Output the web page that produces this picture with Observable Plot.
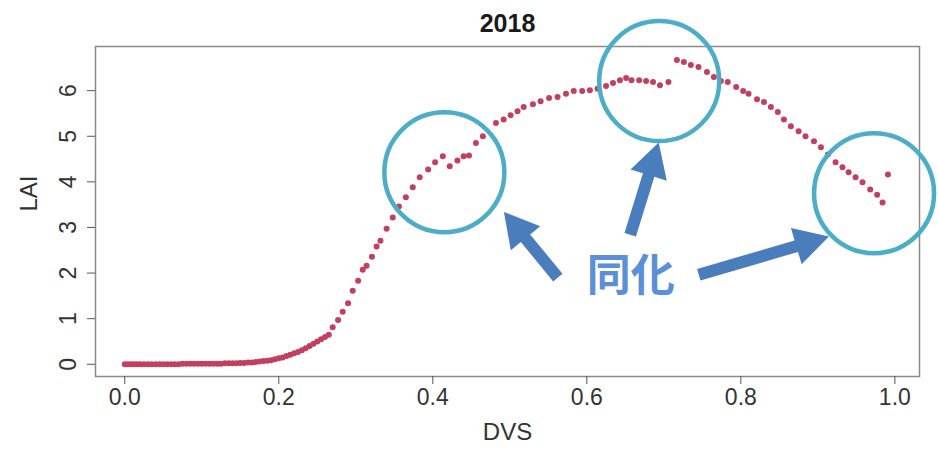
<!DOCTYPE html>
<html>
<head>
<meta charset="utf-8">
<script src="https://cdn.jsdelivr.net/npm/d3@7"></script>
<script src="https://cdn.jsdelivr.net/npm/@observablehq/plot@0.6"></script>
<style>
  html, body { margin: 0; padding: 0; background: #fff; }
  #chart { width: 938px; height: 455px; }
</style>
</head>
<body>
<div id="chart"></div>
<script>
// ---- data ----
const title = "2018";
const xLabel = "DVS";
const yLabel = "LAI";
const xTicks = [0, 0.2, 0.4, 0.6, 0.8, 1.0];
const yTicks = [0, 1, 2, 3, 4, 5, 6];

const dvs = [
  0.000,0.004,0.008,0.012,0.016,0.020,0.025,0.030,0.035,0.040,
  0.045,0.050,0.055,0.060,0.065,0.070,0.075,0.080,0.085,0.090,
  0.095,0.100,0.105,0.110,0.115,0.120,0.125,0.130,0.135,0.140,
  0.145,0.150,0.155,0.160,0.165,0.170,0.175,0.180,0.185,0.190,
  0.195,0.200,0.205,0.210,0.215,0.220,0.225,0.230,0.235,0.240,
  0.245,0.250,0.255,0.260,0.265,
  0.270,0.277,0.283,0.290,0.296,0.303,0.309,0.314,0.321,0.327,
  0.332,0.340,0.348,0.356,0.365,0.374,0.383,0.394,0.403,0.413,
  0.422,0.432,0.440,0.447,0.456,0.465,0.482,0.492,0.501,0.510,
  0.518,0.530,0.540,0.551,0.562,0.573,0.583,0.594,0.604,0.614,
  0.625,0.634,0.643,0.651,0.658,0.668,0.677,0.686,0.695,0.706,
  0.717,0.726,0.735,0.745,0.756,0.765,0.774,0.783,0.794,0.803,
  0.810,0.821,0.830,0.839,0.848,0.856,0.865,0.875,0.884,0.895,
  0.904,0.913,0.923,0.932,0.940,0.949,0.958,0.968,0.977,0.984,
  0.991
];
const lai = [
  0.00,0.00,0.00,0.00,0.00,0.00,0.00,0.00,0.00,0.00,
  0.00,0.00,0.00,0.00,0.00,0.00,0.01,0.01,0.01,0.01,
  0.01,0.01,0.01,0.01,0.01,0.01,0.01,0.02,0.02,0.02,
  0.02,0.03,0.03,0.04,0.04,0.05,0.06,0.07,0.08,0.09,
  0.11,0.13,0.15,0.18,0.21,0.24,0.27,0.31,0.35,0.40,
  0.45,0.50,0.55,0.60,0.65,
  0.81,0.97,1.15,1.34,1.61,1.83,2.07,2.16,2.36,2.58,
  2.71,2.97,3.22,3.46,3.66,3.88,4.10,4.27,4.43,4.56,
  4.34,4.47,4.56,4.58,4.85,5.00,5.29,5.37,5.46,5.55,
  5.64,5.70,5.77,5.84,5.86,5.93,5.99,5.99,6.01,6.04,
  6.10,6.17,6.23,6.28,6.23,6.23,6.21,6.19,6.12,6.19,
  6.67,6.63,6.56,6.52,6.41,6.30,6.21,6.19,6.08,5.99,
  5.93,5.81,5.75,5.64,5.53,5.37,5.22,5.11,5.00,4.89,
  4.76,4.60,4.43,4.32,4.21,4.10,3.99,3.83,3.72,3.55,
  4.16
];

// annotation (data coordinates)
const noteText = "同化";
const noteDvs = 0.657;
const noteLai = 1.91;
const circleDvs = [0.415, 0.694, 0.973];
const circleLai = [4.21, 6.21, 3.75];
const arrowFromDvs = [0.563, 0.657, 0.746];
const arrowFromLai = [1.89, 2.83, 1.95];
const arrowToDvs   = [0.493, 0.694, 0.915];
const arrowToLai   = [3.33, 4.85, 2.79];

// ---- build tables ----
const points = dvs.map((d, i) => ({dvs: d, lai: lai[i]}));
const circles = circleDvs.map((d, i) => ({dvs: d, lai: circleLai[i]}));
const arrows = arrowFromDvs.map((d, i) => ({x0: d, y0: arrowFromLai[i], x1: arrowToDvs[i], y1: arrowToLai[i]}));

const arrowMark = (index, scales) => {
  const g = d3.create("svg:g");
  const w = 12, hw = 38, hl = 34;
  for (const a of arrows) {
    const x0 = scales.x(a.x0), y0 = scales.y(a.y0);
    const x1 = scales.x(a.x1), y1 = scales.y(a.y1);
    const len = Math.hypot(x1 - x0, y1 - y0);
    const ux = (x1 - x0) / len, uy = (y1 - y0) / len;
    const nx = -uy, ny = ux;
    const bx = x1 - ux * hl, by = y1 - uy * hl;
    const pts = [
      [x0 + nx * w / 2, y0 + ny * w / 2],
      [bx + nx * w / 2, by + ny * w / 2],
      [bx + nx * hw / 2, by + ny * hw / 2],
      [x1, y1],
      [bx - nx * hw / 2, by - ny * hw / 2],
      [bx - nx * w / 2, by - ny * w / 2],
      [x0 - nx * w / 2, y0 - ny * w / 2]
    ];
    g.append("polygon")
      .attr("points", pts.map(p => p.join(",")).join(" "))
      .attr("fill", "#4a7dbb");
  }
  return g.node();
};

const chart = Plot.plot({
  width: 938,
  height: 455,
  marginLeft: 95,
  marginRight: 19,
  marginTop: 46,
  marginBottom: 79,
  x: {domain: [-0.038, 1.032]},
  y: {domain: [-0.268, 6.968]},
  style: {fontFamily: "'Liberation Sans', Arial, Helvetica, sans-serif", background: "#fff", color: "#222"},
  marks: [
    Plot.frame({stroke: "#8a8a8a", strokeWidth: 1.5}),
    Plot.axisX({ticks: xTicks, tickFormat: d3.format(".1f"), tickSize: 8, tickPadding: 4, fontSize: 23, label: null, stroke: "#555", fill: "#333"}),
    Plot.axisY({ticks: yTicks, tickFormat: () => "", tickSize: 8, label: null, stroke: "#555"}),
    Plot.text(yTicks, {y: d => d, text: d => String(d), frameAnchor: "left", dx: -27, rotate: -90, fontSize: 23, fill: "#333", textAnchor: "middle", lineAnchor: "middle"}),
    Plot.text([xLabel], {text: d => d, frameAnchor: "bottom", dy: 56, fontSize: 24, fill: "#333", lineAnchor: "middle"}),
    Plot.text([yLabel], {text: d => d, frameAnchor: "left", dx: -66, rotate: -90, fontSize: 24, fill: "#333", lineAnchor: "middle"}),
    Plot.text([title], {text: d => d, frameAnchor: "top", dy: -23, fontSize: 25, fontWeight: "bold", fill: "#1a1a1a", lineAnchor: "middle"}),
    Plot.dot(points, {x: "dvs", y: "lai", r: 3, fill: "#c2405f", stroke: "none"}),
    Plot.dot(circles, {x: "dvs", y: "lai", r: 60, fill: "none", stroke: "#4badc6", strokeWidth: 4.5}),
    arrowMark,
    Plot.text([noteText], {x: () => noteDvs, y: () => noteLai, text: d => d, fontSize: 44, fontWeight: "bold", fill: "#5b8fd8", fontFamily: "'Noto Sans CJK JP', 'Noto Sans CJK SC', sans-serif"})
  ]
});
document.getElementById("chart").appendChild(chart);
</script>
</body>
</html>
